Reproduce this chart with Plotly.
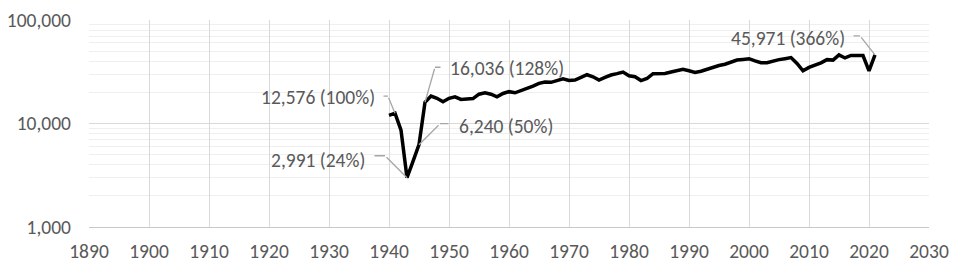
import math
import plotly.graph_objects as go

years = list(range(1940, 2022))
values = [
    12000, 12576, 8630, 2991, 4300, 6240, 16036, 18400, 17500, 16200,   # 1940-1949
    17500, 18100, 17100, 17100, 17400, 19200, 19800, 19200, 18100, 19500,  # 1950-1959
    20300, 19800, 20800, 21500, 23000, 24400, 25200, 25000, 26000, 27000,  # 1960-1969
    26000, 26300, 27900, 29600, 28300, 26300, 27900, 29400, 30300, 31400,  # 1970-1979
    28900, 28300, 26000, 27200, 30300, 30300, 30400, 31400, 32700, 33400,  # 1980-1989
    32300, 31100, 32000, 33400, 35200, 36300, 37400, 39400, 41000, 41600,  # 1990-1999
    42300, 40300, 38600, 38600, 40300, 41400, 42300, 43300, 38000, 32300,  # 2000-2009
    34800, 36500, 38500, 41400, 41000, 46000, 43000, 45400, 45500, 45300,  # 2010-2019
    32300, 45971,                                                          # 2020-2021
]

x_ticks = list(range(1890, 2031, 10))
y_ticks = [1000, 10000, 100000]

# labelled points: (year, text, text xshift, text yshift, anchor, elbow dx, elbow dy, horizontal len)
labels = [
    (1941, "12,576 (100%)", -18, 16, "right", -7, -17, -6),
    (1943, "2,991 (24%)", -40, 18, "right", -22, -22, -12),
    (1946, "16,036 (128%)", 23, 34, "left", 10, -35, 7),
    (1945, "6,240 (50%)", 38, 19, "left", 21, -21, 10),
    (2021, "45,971 (366%)", -28, 17, "right", -15, -19, -8),
]

FONT = "Carlito, Calibri, Liberation Sans, Arial, sans-serif"
FS = 19.5
TXT = "#595959"
LEAD = "#a6a6a6"

fig = go.Figure()
fig.add_trace(go.Scatter(
    x=years, y=values, mode="lines",
    line=dict(color="#000000", width=3.5),
    hoverinfo="skip", showlegend=False,
))

ann = []
for yr, txt, tx, ty, anc, ex, ey, hl in labels:
    v = values[years.index(yr)]
    ly = math.log10(v)
    # diagonal leader from elbow to point
    ann.append(dict(x=yr, y=ly, xref="x", yref="y", text="", showarrow=True,
                    arrowhead=0, arrowwidth=1.3, arrowcolor=LEAD,
                    ax=ex, ay=ey, standoff=0, startstandoff=0))
    # short horizontal segment at the elbow
    ann.append(dict(x=yr, y=ly, xref="x", yref="y", text="", showarrow=True,
                    arrowhead=0, arrowwidth=1.3, arrowcolor=LEAD,
                    xshift=ex, yshift=-ey, ax=hl, ay=0, standoff=0, startstandoff=0))
    # label text
    ann.append(dict(x=yr, y=ly, xref="x", yref="y", text=txt, showarrow=False,
                    xanchor=anc, yanchor="middle", xshift=tx, yshift=ty,
                    font=dict(family=FONT, size=FS, color=TXT)))

fig.update_layout(
    width=960, height=267,
    margin=dict(l=89, r=31, t=20, b=40, pad=0, autoexpand=False),
    paper_bgcolor="white", plot_bgcolor="white",
    annotations=ann,
    font=dict(family=FONT, size=FS, color=TXT),
)
fig.update_xaxes(
    range=[1890, 2030], tickvals=x_ticks, ticktext=[str(t) for t in x_ticks],
    showgrid=True, gridcolor="#d9d9d9", gridwidth=1.3,
    showline=True, linecolor="#c8c8c8", linewidth=1.3,
    zeroline=False, ticks="", ticklabelstandoff=6, automargin=False,
    tickfont=dict(family=FONT, size=FS, color=TXT),
)
fig.update_yaxes(
    type="log", range=[3, 5], tickvals=y_ticks, tickformat=",.0f",
    showgrid=True, gridcolor="#d9d9d9", gridwidth=1.3,
    minor=dict(dtick="D1", showgrid=True, gridcolor="#efefef", gridwidth=1, ticks=""),
    showline=False, zeroline=False, ticks="", ticklabelstandoff=17, automargin=False,
    tickfont=dict(family=FONT, size=FS, color=TXT),
)

fig.write_html("out.html")
